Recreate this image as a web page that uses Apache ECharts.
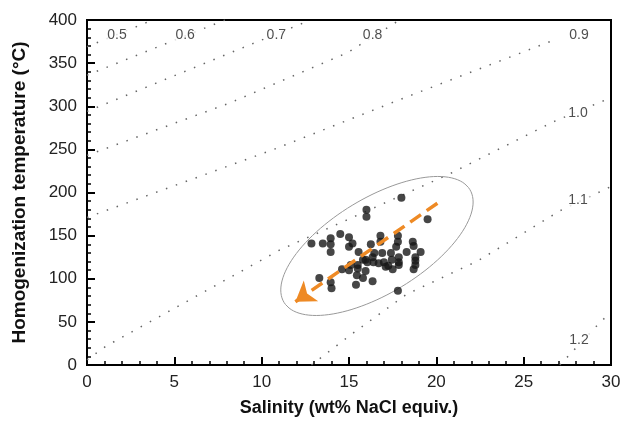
<!DOCTYPE html>
<html>
<head>
<meta charset="utf-8">
<script src="https://cdn.jsdelivr.net/npm/echarts@6/dist/echarts.min.js"></script>
<style>
  html, body { margin: 0; padding: 0; background: #fff; }
  #main { width: 624px; height: 431px; }
</style>
</head>
<body>
<div id="main"></div>
<script>
// inclusions: salinity (wt% NaCl equiv.) and homogenization temperature (°C)
var salinity = [18.0, 16.0, 16.0, 19.5, 12.85, 13.5, 13.95, 13.95, 13.95, 14.5,
  15.0, 15.2, 15.0, 15.55, 16.25, 16.8, 16.8, 17.8, 17.8, 18.65,
  18.7, 16.45, 16.9, 17.4, 17.7, 18.3, 19.1, 15.8, 16.35, 16.05,
  16.4, 16.7, 17.0, 17.45, 17.85, 17.85, 17.85, 17.25, 18.8, 18.8,
  18.8, 18.7, 15.5, 15.1, 15.5, 14.6, 15.0, 15.95, 15.8, 16.35,
  15.4, 13.3, 13.95, 14.0, 17.8, 17.1, 17.5, 15.45, 15.95]
var thTemp = [194, 180, 172, 169, 141, 141, 147, 140, 131, 152,
  148, 141, 137, 131, 140, 150, 143, 150, 143, 143,
  138, 130, 130, 130, 137, 131, 131, 122, 125, 119,
  119, 118, 119, 122, 125, 119, 116, 115, 125, 121,
  116, 111, 116, 116, 112, 111, 110, 109, 101, 97,
  93, 101, 96, 89, 86, 114, 111, 104, 122]

// isochores (g/cm3)
var isoNames = ['0.5', '0.6', '0.7', '0.8', '0.9', '1.0', '1.1', '1.2']
var isoLines = [
  [[0, 369], [3.76, 400]],
  [[0, 336], [7.9, 400]],
  [[0, 294], [12.8, 400]],
  [[0, 243], [8.2, 304], [14.9, 362], [17.9, 400]],
  [[0, 171], [10.7, 250], [18.2, 310], [26.9, 378]],
  [[0, 6], [1.1, 22], [11, 133], [20.7, 221], [26.7, 282], [30, 310]],
  [[12.85, 0], [15.1, 35], [18.3, 82], [22.4, 121], [27.1, 179], [30, 207]],
  [[27.07, 0], [29.4, 50], [30, 61]]
]
var isoLabelX = [1.72, 5.62, 10.84, 16.35, 28.17, 28.11, 28.11, 28.17]
var isoLabelY = [382.6, 382.6, 382.6, 382.6, 382.6, 292.2, 191.3, 29]

// envelope round the data and trend arrow
var ellipseCenter = [16.6, 138]
var ellipseU = [5.32, 65.4]
var ellipseV = [1.42, -47.1]
var trendStart = [20.06, 187.5]
var trendEnd = [11.93, 73.4]

var font = 'Liberation Sans, Arial, Helvetica, sans-serif'

var points = salinity.map(function(s, i) { return [s, thTemp[i]] })

var ellipse = []
for (var a = 0; a <= 360; a += 3) {
  var t = a * Math.PI / 180
  ellipse.push([
    ellipseCenter[0] + ellipseU[0] * Math.cos(t) + ellipseV[0] * Math.sin(t),
    ellipseCenter[1] + ellipseU[1] * Math.cos(t) + ellipseV[1] * Math.sin(t)
  ])
}

var series = []
isoLines.forEach(function(d, i) {
  series.push({
    name: 'iso' + isoNames[i],
    type: 'line',
    data: d,
    showSymbol: false,
    silent: true,
    z: 1,
    lineStyle: { color: '#666', width: 1.5, type: [1.5, 9] }
  })
})
series.push({
  type: 'line',
  data: ellipse,
  showSymbol: false,
  silent: true,
  z: 2,
  lineStyle: { color: '#999', width: 1 }
})
series.push({
  type: 'scatter',
  data: points,
  symbolSize: 8,
  z: 3,
  itemStyle: { color: '#181818' }
})
series.push({
  type: 'lines',
  coordinateSystem: 'cartesian2d',
  data: [{ coords: [trendStart, trendEnd] }],
  symbol: ['none', 'arrow'],
  symbolSize: [0, 19],
  z: 4,
  lineStyle: { color: '#ee8a25', width: 3.5, type: [13, 7], opacity: 1 }
})
series.push({
  type: 'scatter',
  data: isoNames.map(function(n, i) { return { name: n, value: [isoLabelX[i], isoLabelY[i]] } }),
  symbolSize: 1,
  z: 5,
  itemStyle: { color: 'rgba(0,0,0,0)' },
  label: {
    show: true,
    position: 'inside',
    formatter: '{b}',
    fontSize: 14,
    fontFamily: font,
    color: '#222',
    backgroundColor: '#fff',
    padding: [1, 2]
  }
})

var chart = echarts.init(document.getElementById('main'))
chart.setOption({
  animation: false,
  grid: { left: 87, right: 13, top: 20, bottom: 66, show: true, borderColor: '#000', borderWidth: 2 },
  xAxis: {
    type: 'value',
    min: 0,
    max: 30,
    interval: 5,
    name: 'Salinity (wt% NaCl equiv.)',
    nameLocation: 'middle',
    nameGap: 34,
    nameTextStyle: { fontSize: 18, fontWeight: 'bold', color: '#111', fontFamily: font },
    axisLine: { lineStyle: { color: '#000', width: 2 } },
    axisTick: { inside: true, length: 8, lineStyle: { color: '#000', width: 2 } },
    minorTick: { show: true, splitNumber: 5, length: 4, lineStyle: { color: '#000', width: 1.5 } },
    axisLabel: { fontSize: 17, color: '#222', margin: 9, fontFamily: font },
    splitLine: { show: false }
  },
  yAxis: {
    type: 'value',
    min: 0,
    max: 400,
    interval: 50,
    name: 'Homogenization temperature (°C)',
    nameLocation: 'middle',
    nameGap: 58,
    nameTextStyle: { fontSize: 19, fontWeight: 'bold', color: '#111', fontFamily: font },
    axisLine: { show: true, lineStyle: { color: '#000', width: 2 } },
    axisTick: { inside: true, length: 8, lineStyle: { color: '#000', width: 2 } },
    minorTick: { show: true, splitNumber: 5, length: 4, lineStyle: { color: '#000', width: 1.5 } },
    axisLabel: { fontSize: 17, color: '#222', margin: 10, fontFamily: font },
    splitLine: { show: false }
  },
  series: series
})
</script>
</body>
</html>
